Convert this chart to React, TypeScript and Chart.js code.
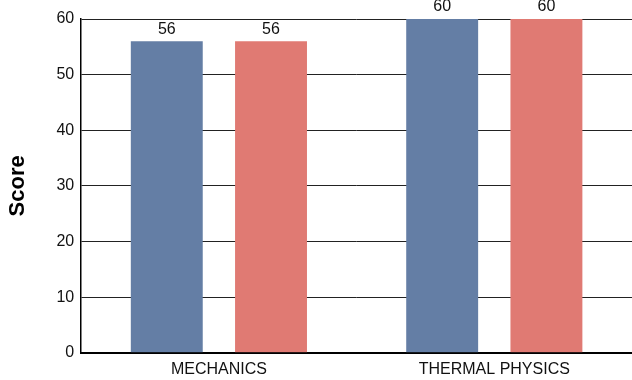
import React, { useEffect, useRef } from "react";
import { Chart, registerables } from "chart.js";

Chart.register(...registerables);

const categories = ["MECHANICS", "THERMAL PHYSICS"];
const seriesA = [56, 60];
const seriesB = [56, 60];
const yTicks = [0, 10, 20, 30, 40, 50, 60];

const FONT = "'Liberation Sans', Arial, sans-serif";

const labelPlugin = {
  id: "barLabels",
  afterDatasetsDraw(chart: any) {
    const ctx = chart.ctx;
    ctx.save();
    ctx.font = `16px ${FONT}`;
    ctx.fillStyle = "#111";
    ctx.textAlign = "center";
    ctx.textBaseline = "bottom";
    chart.data.datasets.forEach((ds: any, i: number) => {
      const meta = chart.getDatasetMeta(i);
      meta.data.forEach((bar: any, j: number) => {
        ctx.fillText(String(ds.data[j]), bar.x, bar.y - 4);
      });
    });
    ctx.restore();
  },
};

export default function App() {
  const ref = useRef<HTMLCanvasElement>(null);
  useEffect(() => {
    document.body.style.margin = "0";
    const chart = new Chart(ref.current!, {
      type: "bar",
      data: {
        labels: categories,
        datasets: [
          { data: seriesA, backgroundColor: "#647ea5", categoryPercentage: 0.757, barPercentage: 0.69 },
          { data: seriesB, backgroundColor: "#e07a73", categoryPercentage: 0.757, barPercentage: 0.69 },
        ],
      },
      options: {
        animation: false,
        responsive: false,
        layout: { padding: { top: 19, right: -3, left: 0, bottom: -6 } },
        plugins: { legend: { display: false }, tooltip: { enabled: false } },
        scales: {
          x: {
            grid: { display: false, drawTicks: false },
            border: { color: "#000", width: 2 },
            ticks: { color: "#111", font: { family: FONT, size: 16 }, padding: 7 },
          },
          y: {
            min: 0,
            max: 60,
            afterBuildTicks: (axis: any) => {
              axis.ticks = yTicks.map((v) => ({ value: v }));
            },
            grid: {
              drawTicks: false,
              color: "#222",
              lineWidth: 1,
            },
            border: { color: "#000", width: 1.5 },
            ticks: { color: "#111", font: { family: FONT, size: 16 }, padding: 7 },
            title: {
              display: true,
              text: "Score",
              color: "#000",
              font: { family: FONT, size: 22, weight: "bold" },
              padding: { top: 5, bottom: 18 },
            },
          },
        },
      },
      plugins: [labelPlugin],
    });
    return () => chart.destroy();
  }, []);
  return (
    <div style={{ width: 632, height: 380 }}>
      <canvas ref={ref} width={632} height={380} />
    </div>
  );
}
